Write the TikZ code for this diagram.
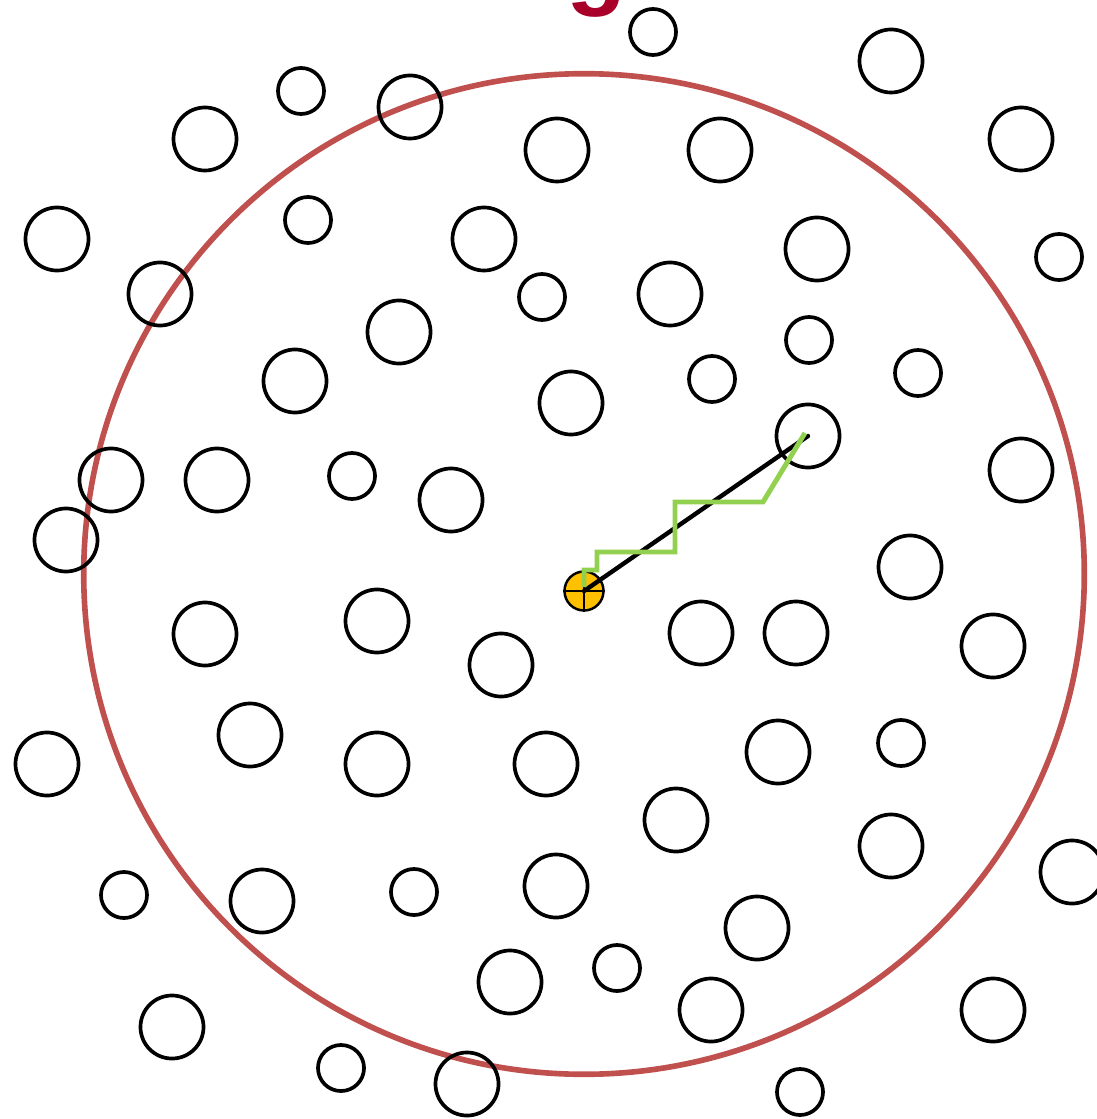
\documentclass[tikz,border=0pt]{standalone}
\usepackage{fontspec}
\setmainfont{Liberation Sans}
\usepackage{tikz}
\usetikzlibrary{positioning, calc}
\usepackage{xcolor}
\definecolor{rangered}{RGB}{192,80,77}
\definecolor{labelred}{RGB}{168,0,40}
\definecolor{hopgreen}{RGB}{146,208,80}
\definecolor{bsorange}{RGB}{255,192,0}

\begin{document}
\begin{tikzpicture}[
    x=0.01cm, y=-0.01cm,
    user/.style={draw, circle, line width=1.05pt, inner sep=0pt},
    biguser/.style={user, minimum size=0.63cm},
    smalluser/.style={user, minimum size=0.46cm},
    basestation/.style={draw, circle, fill=bsorange, line width=0.7pt, inner sep=0pt, minimum size=0.39cm},
    coverage/.style={draw=rangered, line width=1.6pt},
    direct/.style={line width=1.25pt, line cap=round},
    route/.style={draw=hopgreen, line width=1.4pt}
]
\useasboundingbox (0,0) rectangle (1096,1119);

% title, cut by the top edge
\node[anchor=base, font=\bfseries\fontsize{28}{30}\selectfont, text=labelred, inner sep=0pt] (title) at (597,-3) {g};

% coverage range of the base station
\draw[coverage] (584,574) circle[radius=5cm];

% users
\foreach \x/\y [count=\i] in {891/61, 410/107, 205/139, 557/150, 720/150, 1021/139, 57/239, 484/239, 817/249,
    160/294, 670/294, 399/332, 295/381, 571/403, 808/436, 111/480, 217/480, 451/500, 1021/470,
    66/540, 910/567, 205/634, 377/621, 501/665, 701/633, 796/633, 993/646, 250/735, 47/764,
    377/764, 546/764, 778/752, 676/820, 891/846, 1072/872, 262/901, 556/886, 757/928,
    510/982, 711/1010, 993/1010, 172/1027, 467/1084}
    \node[biguser] (u\i) at (\x,\y) {};
\foreach \x/\y [count=\i] in {653/32, 301/91, 308/220, 1059/257, 542/297, 809/340, 712/379,
    918/373, 352/476, 901/743, 124/895, 414/892, 617/968, 341/1068, 800/1092}
    \node[smalluser] (s\i) at (\x,\y) {};

% base station
\node[basestation] (bs) at (584,591) {};
\draw[line width=0.7pt] (bs.west) -- (bs.east);
\draw[line width=0.7pt] (bs.north) -- (bs.south);

% direct link and multi-hop route to the far user
\draw[direct] (bs.center) -- (u15.center);
\draw[route] ($(bs.center)+(0,-4)$) |- (597,570) |- (675,552) |- (763,502) -- ($(u15.center)+(-3,-3)$);
\end{tikzpicture}
\end{document}
